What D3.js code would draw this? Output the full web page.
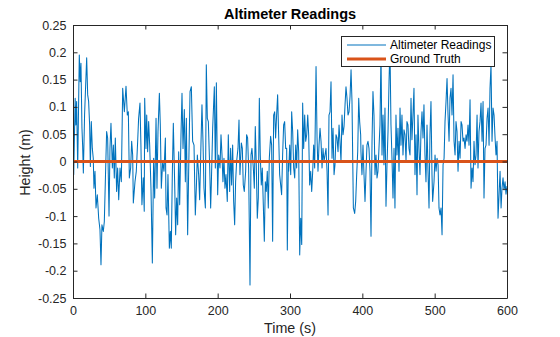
<!DOCTYPE html>
<html><head><meta charset="utf-8">
<script src="https://cdn.jsdelivr.net/npm/d3@7"></script>
<style>
body{margin:0;background:#fff}
svg{display:block}
text{font-family:"Liberation Sans",Arial,Helvetica,sans-serif}
</style>
</head><body>
<svg id="chart" width="560" height="337"></svg>
<script>
// Time (s) of each reading
const times = [
  0, 1, 3, 4, 5, 6.5, 8.7, 10, 11, 12.4,
  13.3, 14.3, 16, 18.9, 20.3, 21.6, 23, 24, 25.3, 26.7,
  28, 29, 30.4, 31.8, 33.6, 35.5, 37.3, 38.7, 40, 41.9,
  43.3, 44.7, 46.5, 47.9, 49.8, 51.1, 52.5, 54.4, 55.8, 57.1,
  58.5, 60.3, 61.7, 63.2, 65, 66.8, 68.7, 71, 73.3, 75.1,
  76.5, 77.9, 79.7, 81.1, 82.5, 83.4, 85.7, 87.5, 89.4, 90.7,
  92.6, 93.9, 95.3, 97.1, 98.5,
  99.1, 100.9, 101.9, 103.2, 104.6, 106, 107.8, 109.7, 111.5, 112.9,
  114.8, 116.1, 117.5, 119.4, 120.7, 122.1, 124, 125.8, 127.7, 128.6,
  130, 131.3, 133.2, 134.6, 135.9, 137.3, 138.7, 140.6, 141.9, 143.3,
  144.7, 146.1, 147.5, 149.3, 150.7, 152.1, 153.9, 155.3, 156.7, 158.5,
  159.9, 161.8, 163.6, 165.4, 167.3, 169.1, 170.5, 171.9, 173.7, 175.1,
  177, 178.3, 179.7, 181.1, 183, 184.3, 185.7, 187.1, 189, 190.3,
  191.2, 193.1, 195.4, 196.8, 198.2,
  200, 201.4, 203.2, 204.6, 206, 207.3, 208.7, 210.1, 211.5, 213.3,
  214.7, 216.6, 217.9, 219.3, 220.7, 222.1, 223.5, 224.8, 226.2, 228.1,
  229.5, 230.8, 232.7, 234.1, 235.4, 236.8, 238.7, 240, 241.4, 242.8,
  244.7, 246.1, 247.4, 249.3, 250.7, 252, 253.4, 254.8, 256.2, 257.6,
  258.9, 260.3, 261.7, 263.1, 264.5, 265.9, 267.2, 268.6, 270, 271.4,
  273.2, 274.6, 276, 277.4, 278.8, 280.1, 281.5, 282.9, 284.3, 285.7,
  287.1, 288.4, 289.8, 291.2, 292.6, 294, 295.4, 296.3, 297.7,
  298.2, 299.6, 301, 302.3, 303.7, 305.1, 306.5, 307.9, 309.2, 310.6,
  312, 313.4, 314.8, 316.2, 317.5, 318.9, 320.3, 321.7, 323.1, 324.5,
  325.8, 327.2, 328.6, 330, 331.4, 332.7, 334.1, 336, 337.4, 338.7,
  340.1, 341.5, 342.9, 344.3, 345.6, 347, 348.4, 349.8, 351.2, 352.6,
  353.9, 355.3, 356.7, 358.1, 359.5, 360.9, 362.2, 363.6, 365, 366.4,
  367.8, 369.1, 370.5, 371.9, 373.3, 374.7, 376.1, 377.4, 378.8, 380.2,
  381.6, 383, 384.4, 385.7, 387.6, 389.4, 390.8, 392.2, 393.6, 395,
  396.3, 397.7,
  398.1, 399.5, 400.9, 402.3, 403.7, 405.1, 406.4, 407.8, 409.2, 410.6,
  412, 413.4, 414.7, 416.1, 417.5, 418.9, 420.3, 421.6, 423, 424.4,
  425.8, 427.2, 428.6, 429.9, 431.3, 432.7, 434.1, 435.5, 436.9, 438.2,
  439.6, 441, 442.4, 443.8, 445.1, 446.5, 447.9, 449.3, 450.7, 452.1,
  453.4, 454.8, 456.2, 457.6, 459, 460.4, 461.7, 463.1, 464.5, 465.9,
  467.3, 468.6, 470, 471.4, 472.8, 474.2, 475.6, 476.9, 478.3, 479.7,
  481.1, 482.5, 483.9, 485.2, 486.6, 488, 489.4, 490.8, 492.2, 493.5,
  494.9, 496.3, 497.2,
  499.1, 500.5, 501.9, 503.3, 504.7, 506, 507.4, 508.8, 510.2, 511.6,
  513, 514.3, 515.7, 517.1, 518.5, 519.9, 521.2, 522.6, 524, 525.4,
  526.8, 528.2, 529.5, 530.9, 532.3, 533.7, 535.1, 536.5, 537.8, 539.2,
  540.6, 542, 543.4, 544.7, 546.1, 547.5, 548.9, 550.3, 551.7, 553,
  554.4, 555.8, 557.2, 558.6, 559.9, 561.3, 562.7, 564.1, 565.5, 566.9,
  568.2, 569.6, 571, 572.4, 573.8, 575.2, 576.5, 577.9, 579.3, 580.7,
  582.1, 583.5, 584.8, 586.2, 587.6, 589, 590.4, 591.8, 593.1, 594.5,
  595.9, 597.3, 598.6, 600
];
// Altimeter readings, height (m)
const heights = [
  0.055, -0.024, 0.116, 0.067, 0.11, -0.012, 0.195, 0.146, 0.18, 0.061,
  0.03, -0.021, 0.085, 0.19, 0.122, 0.11, 0.067, -0.009, 0.073, 0.024,
  0.006, -0.049, -0.018, -0.085, -0.061, -0.104, -0.125, -0.189, -0.116, -0.128,
  -0.11, -0.037, 0.055, 0.043, -0.1, 0.024, 0.07, -0.012, 0.03, -0.03,
  0.043, -0.055, -0.012, -0.07, -0.012, -0.037, 0.134, 0.091, 0.138, 0.085,
  0.091, -0.03, -0.012, 0.037, 0.012, -0.076, -0.037, -0.018, 0.037, 0.079,
  0.107, 0.03, -0.079, -0.03, -0.091,
  0.116, 0.024, 0.085, 0.018, 0.073, 0.03, -0.049, -0.186, 0.006, -0.067,
  0.079, -0.049, 0.055, 0.125, 0.067, -0.049, 0, -0.018, 0.043, -0.085,
  -0.098, -0.024, -0.159, -0.128, -0.159, -0.024, 0.07, -0.043, -0.134, -0.067,
  -0.116, 0.018, -0.079, 0.049, 0.125, 0.024, 0.095, -0.037, 0.079, -0.134,
  -0.018, 0.128, 0.137, 0.037, 0.03, -0.098, -0.049, 0.012, -0.024, -0.07,
  0.037, 0.104, 0.037, -0.049, -0.085, 0.177, 0.079, 0.073, -0.012, -0.085,
  -0.043, 0.061, 0.137, -0.012, 0.144,
  -0.061, 0.012, -0.012, 0.049, 0.012, -0.037, 0.006, -0.049, -0.024, -0.073,
  0.049, -0.055, 0.024, -0.043, 0.03, -0.073, -0.116, -0.037, 0, 0.024,
  0.076, -0.024, 0.034, 0.024, -0.043, -0.055, -0.018, 0.049, 0.043, -0.012,
  -0.226, 0.012, 0.024, -0.012, -0.049, 0.064, -0.006, -0.104, -0.067, 0.116,
  0.012, -0.043, -0.012, -0.079, -0.146, -0.037, -0.055, -0.018, -0.085, 0.006,
  0.046, 0.03, -0.146, 0.085, 0.091, 0.043, 0.085, 0.122, 0.049, -0.024,
  -0.043, -0.061, 0.012, 0.067, 0.073, 0.024, 0.024, -0.162, 0,
  -0.018, 0.03, -0.024, 0.091, 0.055, -0.012, -0.03, 0.03, -0.012, 0.058,
  0.018, -0.171, -0.104, -0.152, 0.107, 0.024, 0.085, 0.037, 0.049, 0.085,
  0.049, -0.043, -0.018, -0.055, -0.018, 0.03, -0.012, 0.174, 0.043, -0.018,
  0.03, 0.061, 0.037, -0.012, 0.024, 0, 0.012, 0.024, -0.018, -0.098,
  0.085, 0.091, 0.146, 0.006, 0.061, -0.024, -0.006, 0.049, 0.043, 0.018,
  0.067, 0.037, 0, 0.085, 0.049, 0.064, 0.104, 0.137, 0.116, 0.085,
  0.091, 0.119, 0.168, 0.11, -0.085, -0.095, -0.073, -0.024, 0.018, 0.116,
  0.073, 0.049,
  0.018, -0.024, 0.03, -0.024, -0.073, -0.018, 0.03, 0.037, 0.024, -0.018,
  -0.137, 0.037, 0.128, 0.085, -0.024, 0.012, -0.03, -0.018, 0.024, 0.067,
  0.2, 0.012, 0.085, -0.006, 0.098, -0.082, -0.006, 0.055, 0.146, 0.21,
  0.067, 0.006, -0.067, 0.024, -0.085, 0.085, 0.012, 0.061, -0.018, 0.098,
  0.03, 0.085, 0.012, 0.058, 0.049, 0, 0.073, 0.067, 0.024, 0.012,
  0.116, 0.04, 0.085, 0.134, -0.024, 0.049, -0.061, 0.085, 0.024, -0.024,
  0.055, 0.091, 0.043, 0.104, 0.012, -0.037, 0.067, -0.018, -0.085, 0.049,
  0.11, -0.024, -0.073,
  -0.037, 0.012, -0.018, 0.006, -0.006, -0.085, -0.098, -0.085, -0.134, -0.006,
  0.006, 0.073, 0.11, 0.152, 0.085, 0.037, 0.116, 0.134, 0.085, 0.159,
  0.037, 0.012, 0.073, 0.055, -0.018, 0.037, 0.006, 0.073, 0.067, 0.037,
  0.043, 0.024, 0.049, 0.037, 0.067, 0.03, 0.113, -0.049, -0.012, -0.037,
  0.037, -0.006, 0.012, 0.085, -0.012, 0.055, 0.073, 0.107, 0.037, 0.11,
  -0.067, 0.024, 0.03, 0.079, 0.098, 0.03, 0.134, 0.177, 0.037, 0.098,
  0.085, 0.043, 0.012, 0.037, -0.104, -0.061, -0.018, -0.085, -0.049, -0.03,
  -0.052, -0.037, -0.06, -0.045
];
// Ground truth
const truthTimes = [0, 600];
const truthHeights = [0, 0];

const xTicks = [0, 100, 200, 300, 400, 500, 600];
const xTickLabels = ["0", "100", "200", "300", "400", "500", "600"];
const yTicks = [-0.25, -0.2, -0.15, -0.1, -0.05, 0, 0.05, 0.1, 0.15, 0.2, 0.25];
const yTickLabels = ["-0.25", "-0.2", "-0.15", "-0.1", "-0.05", "0", "0.05", "0.1", "0.15", "0.2", "0.25"];
const seriesNames = ["Altimeter Readings", "Ground Truth"];
const titleText = "Altimeter Readings";
const xLabel = "Time (s)";
const yLabel = "Height (m)";

const W = 560, H = 337;
const P = {l: 73, r: 507, t: 25, b: 298};
const axisColor = "#262626";
const blue = "#0072BD", orange = "#D95319";

const svg = d3.select("#chart");
svg.append("rect").attr("width", W).attr("height", H).attr("fill", "#fff");

const x = d3.scaleLinear().domain([0, 600]).range([P.l, P.r]);
const y = d3.scaleLinear().domain([-0.25, 0.25]).range([P.b, P.t]);

svg.append("defs").append("clipPath").attr("id", "clip")
  .append("rect").attr("x", P.l).attr("y", P.t).attr("width", P.r - P.l).attr("height", P.b - P.t);

const plot = svg.append("g").attr("clip-path", "url(#clip)");

const readings = times.map((t, i) => [t, heights[i]]);
const truth = truthTimes.map((t, i) => [t, truthHeights[i]]);
const line = d3.line().x(d => x(d[0])).y(d => y(d[1]));

plot.append("path").datum(readings).attr("d", line)
  .attr("fill", "none").attr("stroke", blue).attr("stroke-width", 1.05).attr("stroke-linejoin", "round");
plot.append("path").datum(truth).attr("d", line)
  .attr("fill", "none").attr("stroke", orange).attr("stroke-width", 3);

// Axes
const tk = 4.5;
function style(g) {
  g.selectAll("path, line").attr("stroke", axisColor);
  g.selectAll("text").attr("fill", axisColor).style("font-size", "12.5px")
    .style("font-family", '"Liberation Sans", Arial, sans-serif');
}
svg.append("g").attr("transform", `translate(0,${P.b})`)
  .call(d3.axisBottom(x).tickValues(xTicks).tickFormat((d, i) => xTickLabels[i]).tickSizeInner(-tk).tickSizeOuter(0).tickPadding(8))
  .call(style);
svg.append("g").attr("transform", `translate(0,${P.t})`)
  .call(d3.axisTop(x).tickValues(xTicks).tickFormat("").tickSizeInner(-tk).tickSizeOuter(0))
  .call(style);
svg.append("g").attr("transform", `translate(${P.l},0)`)
  .call(d3.axisLeft(y).tickValues(yTicks).tickFormat((d, i) => yTickLabels[i]).tickSizeInner(-tk).tickSizeOuter(0).tickPadding(6.5))
  .call(style);
svg.append("g").attr("transform", `translate(${P.r},0)`)
  .call(d3.axisRight(y).tickValues(yTicks).tickFormat("").tickSizeInner(-tk).tickSizeOuter(0))
  .call(style);

// Labels
svg.append("text").attr("x", (P.l + P.r) / 2).attr("y", 19).attr("text-anchor", "middle")
  .style("font-size", "14.5px").style("font-weight", "bold").attr("fill", "#000").text(titleText);
svg.append("text").attr("x", (P.l + P.r) / 2).attr("y", 333).attr("text-anchor", "middle")
  .style("font-size", "14.3px").attr("fill", axisColor).text(xLabel);
svg.append("text").attr("transform", `translate(30,${(P.t + P.b) / 2 + 1}) rotate(-90)`).attr("text-anchor", "middle")
  .style("font-size", "14.3px").attr("fill", axisColor).text(yLabel);

// Legend
const lg = svg.append("g");
lg.append("rect").attr("x", 341.5).attr("y", 36.5).attr("width", 153).attr("height", 30)
  .attr("fill", "#fff").attr("stroke", axisColor).attr("stroke-width", 1);
const legendColors = [blue, orange], legendWidths = [1.05, 3], legendY = [45, 59];
seriesNames.forEach((name, i) => {
  lg.append("line").attr("x1", 347).attr("x2", 386).attr("y1", legendY[i]).attr("y2", legendY[i])
    .attr("stroke", legendColors[i]).attr("stroke-width", legendWidths[i]);
  lg.append("text").attr("x", 390).attr("y", legendY[i] + 4.3).style("font-size", "12px")
    .attr("fill", "#000").text(name);
});
</script>
</body></html>
